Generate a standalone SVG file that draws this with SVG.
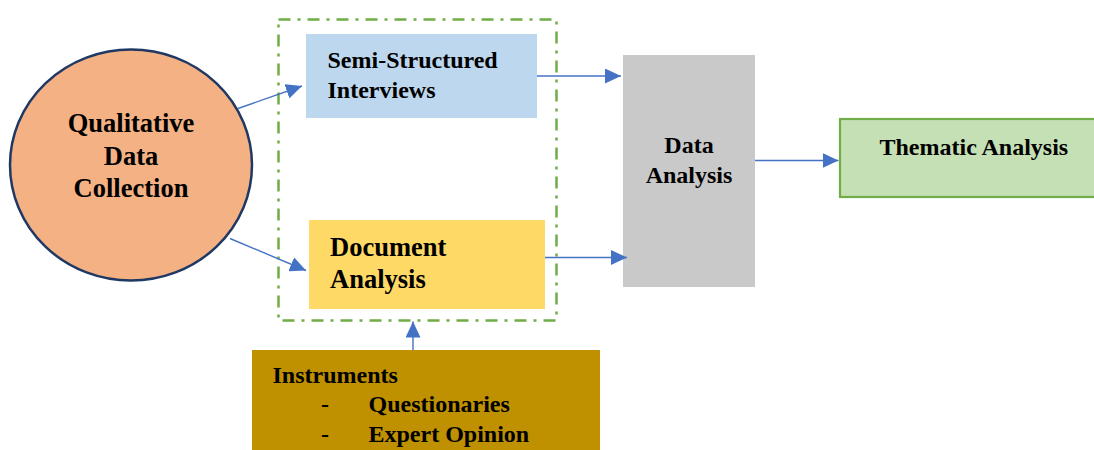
<svg xmlns="http://www.w3.org/2000/svg" width="1094" height="450" viewBox="0 0 1094 450">
  <defs>
    <style>
      .t { font-family: "Liberation Serif", "Times New Roman", serif; font-weight: bold; fill: #000; }
      .big { font-size: 26.5px; }
      .mid { font-size: 24px; }
      .link { stroke: #4472C4; stroke-width: 1.4; fill: none; marker-end: url(#head); }
    </style>
    <marker id="head" markerUnits="userSpaceOnUse" markerWidth="17" markerHeight="15" refX="16" refY="7.5" orient="auto">
      <path d="M0,0 L16,7.5 L0,15 Z" fill="#4472C4"/>
    </marker>
  </defs>

  <rect width="1094" height="450" fill="#ffffff"/>

  <!-- dash-dot frame around the two data sources -->
  <rect id="sources-frame" x="278.5" y="19.5" width="278" height="301" fill="none" stroke="#70AD47" stroke-width="2.5" stroke-dasharray="12 7 3 7"/>

  <g id="qualitative-data-collection">
    <ellipse cx="131" cy="165" rx="121" ry="115.5" fill="#F4B183" stroke="#1F3864" stroke-width="2.5"/>
    <text class="t big" text-anchor="middle" x="131" y="132">Qualitative</text>
    <text class="t big" text-anchor="middle" x="131" y="164.5">Data</text>
    <text class="t big" text-anchor="middle" x="131" y="197">Collection</text>
  </g>

  <g id="semi-structured-interviews">
    <rect x="306" y="34" width="231" height="84" fill="#BDD7EE"/>
    <text class="t mid" x="327.5" y="68">Semi-Structured</text>
    <text class="t mid" x="327.5" y="98">Interviews</text>
  </g>

  <g id="document-analysis">
    <rect x="309" y="220" width="236" height="89" fill="#FFD966"/>
    <text class="t big" x="330" y="256">Document</text>
    <text class="t big" x="330" y="287.5">Analysis</text>
  </g>

  <g id="data-analysis">
    <rect x="623" y="55" width="132" height="232" fill="#C9C9C9"/>
    <text class="t mid" text-anchor="middle" x="689" y="152.5">Data</text>
    <text class="t mid" text-anchor="middle" x="689" y="182.5">Analysis</text>
  </g>

  <g id="thematic-analysis">
    <rect x="840" y="119" width="270" height="78" fill="#C5E0B4" stroke="#70AD47" stroke-width="2.2"/>
    <text class="t mid" x="879.5" y="155">Thematic Analysis</text>
  </g>

  <g id="instruments">
    <rect x="252" y="350" width="348" height="100" fill="#BF9000"/>
    <text class="t mid" x="272.5" y="382.5">Instruments</text>
    <text class="t mid" x="321" y="411.5">-</text>
    <text class="t mid" x="368.5" y="411.5">Questionaries</text>
    <text class="t mid" x="321" y="441.5">-</text>
    <text class="t mid" x="368.5" y="441.5">Expert Opinion</text>
  </g>

  <g id="connectors">
    <line class="link" x1="238" y1="108.5" x2="302" y2="86"/>
    <line class="link" x1="230" y1="238.5" x2="306" y2="270.5"/>
    <line class="link" x1="537" y1="76" x2="621" y2="76"/>
    <line class="link" x1="545" y1="257.5" x2="627" y2="257.5"/>
    <line class="link" x1="755" y1="160.5" x2="838.5" y2="160.5"/>
    <line class="link" x1="413" y1="350" x2="413" y2="321.5"/>
  </g>
</svg>
